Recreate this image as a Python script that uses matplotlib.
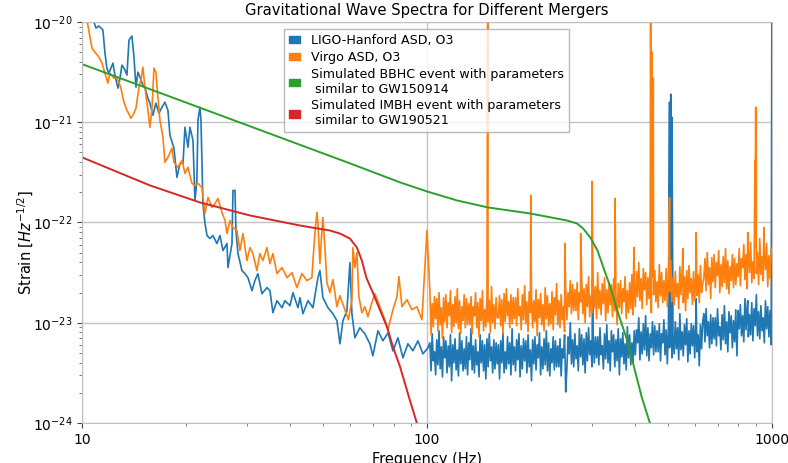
import numpy as np
import matplotlib
matplotlib.use('Agg')
import matplotlib.pyplot as plt
from matplotlib.patches import Patch
from matplotlib.ticker import FixedLocator, FixedFormatter, NullFormatter

# ---- detector ASDs, values stored as log10(strain) ----
# below 100 Hz: frequency (Hz) and log10 ASD
hanford_low_freq = [10.0, 10.48, 10.83, 10.98, 11.20, 11.50, 11.66, 11.81, 11.97, 12.30,
                    12.46, 12.72, 12.89, 13.06, 13.33, 13.50, 13.69, 13.96, 14.15, 14.34,
                    14.53, 14.73, 15.02, 15.22, 15.53, 15.74, 16.06, 16.38, 16.72, 17.06,
                    17.40, 17.75, 17.99, 18.48, 18.85, 19.24, 19.63, 19.89, 20.29, 20.56,
                    20.98, 21.26, 21.54, 21.69, 21.98, 22.13, 22.42, 22.73, 23.04, 23.50,
                    23.98, 24.62, 25.12, 25.63, 26.32, 26.50, 27.22, 27.40, 27.77, 27.95,
                    28.33, 29.09, 29.68, 30.28, 31.10, 31.72, 32.36, 33.24, 34.37, 35.07,
                    35.77, 36.75, 38.00, 38.77, 40.09, 40.89, 42.28, 42.85, 43.71, 45.20,
                    46.73, 48.31, 48.96, 49.94, 51.64, 53.39, 54.84, 55.95, 57.08, 58.63,
                    59.81, 60.61, 61.83, 63.91, 66.08, 68.33, 69.71, 72.11, 74.55, 77.10,
                    79.70, 82.40, 85.20, 88.08, 91.08, 94.17, 97.36, 100.7]
hanford_low_log = [-19.85, -20.00, -20.00, -20.06, -20.04, -20.08, -20.31, -20.46, -20.51, -20.41,
                   -20.53, -20.66, -20.56, -20.43, -20.48, -20.53, -20.18, -20.14, -20.35, -20.65,
                   -20.50, -20.55, -20.63, -20.65, -20.76, -20.81, -20.93, -20.81, -20.91, -20.85,
                   -20.80, -20.88, -21.13, -21.26, -21.55, -21.41, -21.41, -21.05, -21.25, -21.05,
                   -21.18, -21.78, -21.58, -20.98, -20.85, -20.98, -21.81, -22.01, -22.13, -22.16,
                   -22.13, -22.21, -22.13, -22.28, -22.21, -22.45, -22.21, -21.68, -21.68, -22.08,
                   -22.31, -22.48, -22.51, -22.55, -22.68, -22.58, -22.51, -22.71, -22.65, -22.68,
                   -22.90, -22.78, -22.85, -22.78, -22.83, -22.70, -22.85, -22.75, -22.91, -22.78,
                   -22.85, -22.55, -22.48, -22.75, -22.85, -22.91, -22.98, -23.21, -22.98, -22.88,
                   -22.40, -22.91, -23.15, -23.05, -23.11, -23.21, -23.33, -23.08, -23.18, -23.10,
                   -23.28, -23.15, -23.35, -23.21, -23.28, -23.18, -23.31, -23.25]

virgo_low_freq = [10.0, 10.34, 10.55, 10.69, 10.90, 11.20, 11.43, 11.66, 11.89, 12.05,
                  12.38, 12.55, 12.80, 12.97, 13.23, 13.50, 13.87, 14.15, 14.34, 14.63,
                  14.83, 15.02, 15.22, 15.53, 15.74, 15.95, 16.17, 16.38, 16.60, 16.83,
                  17.17, 17.40, 17.75, 18.23, 18.48, 18.98, 19.50, 19.89, 20.29, 20.84,
                  21.26, 21.69, 22.27, 22.73, 23.19, 23.82, 24.30, 24.79, 25.46, 25.98,
                  26.32, 26.86, 27.40, 28.14, 28.71, 29.29, 30.08, 30.69, 31.31, 32.14,
                  32.80, 33.46, 34.37, 35.07, 35.77, 36.75, 38.00, 39.30, 40.62, 41.99,
                  43.41, 44.88, 46.40, 46.73, 47.34, 47.99, 48.31, 48.96, 49.62, 49.94,
                  50.61, 51.29, 52.33, 53.39, 54.84, 55.95, 57.86, 59.22, 60.61, 61.01,
                  61.83, 62.66, 63.50, 64.77, 66.08, 67.41, 69.24, 70.64, 73.03, 75.51,
                  77.10, 79.70, 81.86, 82.94, 84.64, 87.49, 90.47, 93.54, 96.71, 100.0]
virgo_low_log = [-19.70, -19.98, -20.15, -20.26, -20.30, -20.35, -20.41, -20.51, -20.61, -20.51,
                 -20.56, -20.55, -20.60, -20.66, -20.80, -20.88, -20.96, -20.91, -20.86, -20.65,
                 -20.58, -20.45, -20.65, -20.88, -21.05, -20.88, -20.46, -20.50, -20.75, -20.98,
                 -21.15, -21.40, -21.35, -21.26, -21.40, -21.45, -21.38, -21.51, -21.45, -21.61,
                 -21.63, -21.61, -21.65, -21.91, -21.75, -21.85, -21.81, -21.76, -21.90, -21.98,
                 -22.11, -21.98, -22.05, -22.08, -22.28, -22.11, -22.38, -22.25, -22.31, -22.48,
                 -22.31, -22.38, -22.25, -22.41, -22.31, -22.51, -22.45, -22.55, -22.50, -22.65,
                 -22.51, -22.58, -22.55, -22.38, -22.11, -21.90, -22.01, -22.41, -22.08, -21.95,
                 -22.25, -22.60, -22.70, -22.57, -22.84, -22.73, -22.87, -22.97, -22.77, -22.25,
                 -22.45, -22.30, -22.74, -22.90, -22.84, -22.94, -22.80, -22.71, -22.84, -22.97,
                 -23.07, -22.87, -22.74, -22.54, -22.84, -22.77, -22.87, -22.84, -22.97, -22.08]

# 100 Hz - 1 kHz: both detectors on a common log-spaced grid
hanford_high_log = [
    # ~100-150 Hz
    -23.20, -23.48, -23.11, -23.38, -23.29, -23.52, -23.17, -23.42, -23.08, -23.46,
    -23.24, -23.54, -23.14, -23.35, -23.18, -23.50, -23.23, -23.44, -23.12, -23.58,
    -23.22, -23.40, -23.16, -23.47, -23.27, -23.53, -23.10, -23.41, -23.18, -23.48,
    -23.26, -23.46, -23.14, -23.52, -23.20, -23.37, -23.06, -23.47, -23.23, -23.50,
    -23.17, -23.42, -23.29, -23.54, -23.12, -23.40, -23.18, -23.48, -23.22, -23.56,
    -23.16, -23.44, -23.11, -23.38, -23.24, -23.50, -23.17, -23.46, -23.20, -23.41,
    # ~150-240 Hz
    -23.22, -23.56, -23.18, -23.40, -23.10, -23.50, -23.29, -23.46, -23.14, -23.41,
    -23.20, -23.52, -23.06, -23.42, -23.24, -23.48, -23.17, -23.37, -23.11, -23.54,
    -23.23, -23.46, -23.16, -23.38, -23.18, -23.50, -23.12, -23.44, -23.27, -23.58,
    -23.17, -23.41, -23.14, -23.47, -23.22, -23.35, -23.10, -23.52, -23.24, -23.46,
    -23.16, -23.42, -23.08, -23.48, -23.20, -23.53, -23.26, -23.40, -23.14, -23.47,
    -23.18, -23.44, -23.23, -23.44, -23.16, -23.53, -23.26, -23.35, -23.12, -23.69,
    # ~240-390 Hz
    -23.46, -23.14, -23.31, -23.00, -23.41, -23.17, -23.44, -23.11, -23.36, -23.23,
    -23.48, -23.06, -23.34, -23.12, -23.42, -23.16, -23.50, -23.10, -23.38, -23.05,
    -23.32, -23.18, -23.44, -23.11, -23.40, -23.14, -23.35, -23.14, -23.42, -23.05,
    -23.32, -23.23, -23.46, -23.11, -23.36, -23.02, -23.40, -23.18, -23.48, -23.08,
    -23.29, -23.12, -23.44, -23.17, -23.38, -23.06, -23.52, -23.16, -23.34, -23.10,
    -23.41, -23.21, -23.47, -23.04, -23.35, -23.12, -23.42, -23.20, -23.40, -23.08,
    # ~390-620 Hz
    -23.32, -23.07, -23.20, -22.95, -23.37, -23.09, -23.31, -23.01, -23.27, -22.93,
    -23.33, -23.05, -23.38, -23.11, -23.25, -22.99, -23.32, -23.03, -23.29, -23.08,
    -23.29, -23.01, -23.38, -23.11, -23.20, -22.97, -23.32, -23.07, -23.41, -23.03,
    -23.25, -22.95, -23.35, -23.14, -23.31, -22.99, -23.26, -23.05, -23.37, -22.91,
    -23.27, -23.09, -23.33, -23.02, -23.22, -22.96, -23.39, -23.08, -23.31, -23.01,
    -23.23, -23.03, -23.35, -22.97, -23.29, -23.12, -23.43, -23.02, -23.26, -22.99,
    # ~620-1000 Hz
    -22.91, -23.19, -22.86, -23.13, -22.99, -23.25, -22.92, -23.21, -22.95, -23.16,
    -22.95, -23.23, -22.86, -23.13, -23.04, -23.27, -22.92, -23.17, -22.83, -23.21,
    -22.99, -23.29, -22.89, -23.10, -22.93, -23.25, -22.98, -23.19, -22.87, -23.33,
    -22.88, -23.06, -22.82, -23.13, -22.93, -23.19, -22.76, -23.07, -22.84, -23.14,
    -22.92, -23.12, -22.80, -23.18, -22.86, -23.03, -22.72, -23.13, -22.89, -23.16,
    -22.83, -23.08, -22.95, -23.20, -22.78, -23.06, -22.84, -23.14, -22.88, -23.22]
virgo_high_log = [
    # ~100-150 Hz
    -22.69, -23.12, -22.81, -23.04, -22.74, -22.96, -22.76, -23.08, -22.70, -23.02,
    -22.85, -23.16, -22.75, -22.99, -22.72, -23.05, -22.80, -22.93, -22.68, -23.10,
    -22.82, -23.04, -22.74, -23.00, -22.66, -23.06, -22.78, -23.11, -22.84, -22.98,
    -22.72, -23.05, -22.76, -23.02, -22.81, -23.02, -22.74, -23.11, -22.84, -22.93,
    -22.70, -23.05, -22.80, -23.14, -22.76, -22.98, -22.68, -23.08, -22.87, -23.04,
    -22.72, -22.99, -22.78, -23.10, -22.64, -23.00, -22.82, -23.06, -22.75, -22.95,
    # ~150-240 Hz
    -22.95, -22.73, -23.03, -22.77, -23.11, -22.71, -22.99, -22.66, -22.93, -22.79,
    -23.05, -22.72, -23.01, -22.75, -22.96, -22.75, -23.03, -22.66, -22.93, -22.84,
    -23.07, -22.72, -22.97, -22.63, -23.01, -22.79, -23.09, -22.69, -22.90, -22.73,
    -23.05, -22.78, -22.99, -22.67, -23.13, -22.77, -22.95, -22.71, -23.02, -22.82,
    -23.08, -22.65, -22.96, -22.73, -23.03, -22.81, -23.01, -22.69, -23.07, -22.75,
    -22.92, -22.61, -23.02, -22.78, -23.05, -22.72, -22.97, -22.84, -23.09, -22.67,
    # ~240-390 Hz
    -22.97, -22.70, -22.84, -22.58, -22.91, -22.62, -22.88, -22.67, -22.88, -22.60,
    -22.97, -22.70, -22.79, -22.56, -22.91, -22.66, -23.00, -22.62, -22.84, -22.54,
    -22.94, -22.73, -22.90, -22.58, -22.85, -22.64, -22.96, -22.50, -22.86, -22.68,
    -22.92, -22.61, -22.81, -22.55, -22.98, -22.67, -22.90, -22.60, -22.82, -22.62,
    -22.94, -22.56, -22.88, -22.71, -23.02, -22.61, -22.85, -22.58, -22.91, -22.66,
    -22.79, -22.54, -22.96, -22.68, -22.90, -22.60, -22.86, -22.52, -22.92, -22.64,
    # ~390-620 Hz
    -22.84, -22.49, -22.74, -22.40, -22.78, -22.56, -22.86, -22.46, -22.67, -22.50,
    -22.82, -22.55, -22.76, -22.44, -22.90, -22.54, -22.72, -22.48, -22.79, -22.59,
    -22.85, -22.42, -22.73, -22.50, -22.80, -22.58, -22.78, -22.46, -22.84, -22.52,
    -22.69, -22.38, -22.79, -22.55, -22.82, -22.49, -22.74, -22.61, -22.86, -22.44,
    -22.72, -22.50, -22.80, -22.54, -22.88, -22.48, -22.76, -22.43, -22.70, -22.56,
    -22.82, -22.49, -22.78, -22.52, -22.73, -22.52, -22.80, -22.43, -22.70, -22.61,
    # ~620-1000 Hz
    -22.56, -22.36, -22.68, -22.30, -22.62, -22.45, -22.76, -22.35, -22.59, -22.32,
    -22.65, -22.40, -22.53, -22.28, -22.70, -22.42, -22.64, -22.34, -22.60, -22.26,
    -22.66, -22.38, -22.71, -22.44, -22.58, -22.32, -22.65, -22.36, -22.62, -22.41,
    -22.54, -22.26, -22.63, -22.36, -22.45, -22.22, -22.57, -22.32, -22.66, -22.28,
    -22.50, -22.20, -22.60, -22.39, -22.56, -22.24, -22.51, -22.30, -22.62, -22.16,
    -22.52, -22.34, -22.58, -22.27, -22.47, -22.21, -22.64, -22.33, -22.56, -22.26]

# narrow instrumental lines (mains harmonics, violin modes, calibration)
hanford_line_freq = [302, 505, 509, 513, 603, 851, 1000]
hanford_line_log = [-22.57, -20.80, -20.72, -20.95, -22.76, -22.78, -19.5]
virgo_line_freq = [150, 200, 251, 279, 301, 351, 398, 445, 449, 453,
                   505, 552, 603, 851, 893, 897, 901, 948]
virgo_line_log = [-19.5, -21.73, -22.21, -22.11, -21.59, -21.76, -22.25, -19.5, -20.30, -20.56,
                  -21.75, -22.26, -22.10, -22.10, -21.38, -20.85, -20.88, -22.05]

# ---- simulated signals ----
bbh_freq = [10, 10, 15.74, 30.69, 59.81, 83.6, 100, 122.2, 150.3, 199.0,
            254.6, 272.3, 283.5, 297.6, 312.2, 324.8, 340.6, 355.6, 380.1, 420.0, 442.9, 460]
bbh_log = [-30, -20.42, -20.67, -21.04, -21.41, -21.60, -21.69, -21.78, -21.85, -21.91,
           -21.98, -22.01, -22.06, -22.15, -22.28, -22.45, -22.65, -22.87, -23.17, -23.75, -24.0, -24.2]
imbh_freq = [10, 10, 15.74, 21.98, 30.69, 42.85, 52.33, 55.95, 59.81, 62.66,
             64.77, 66.74, 69.71, 73.03, 76.58, 79.70, 83.59, 89.18, 93.5, 96]
imbh_log = [-30, -21.35, -21.63, -21.80, -21.93, -22.03, -22.08, -22.11, -22.16, -22.25,
            -22.38, -22.55, -22.70, -22.87, -23.04, -23.24, -23.44, -23.77, -24.0, -24.3]

labels = ['LIGO-Hanford ASD, O3',
          'Virgo ASD, O3',
          'Simulated BBHC event with parameters\n similar to GW150914',
          'Simulated IMBH event with parameters\n similar to GW190521']
colors = ['C0', 'C1', 'C2', 'C3']


def build_asd(low_f, low_l, high_l, line_f, line_l):
    high_f = np.geomspace(102, 995, len(high_l))
    f = np.concatenate([low_f, high_f, line_f])
    l = np.concatenate([low_l, high_l, line_l])
    order = np.argsort(f, kind='stable')
    return f[order], 10.0 ** l[order]


h_f, h_asd = build_asd(hanford_low_freq, hanford_low_log, hanford_high_log,
                       hanford_line_freq, hanford_line_log)
v_f, v_asd = build_asd(virgo_low_freq, virgo_low_log, virgo_high_log,
                       virgo_line_freq, virgo_line_log)

fig = plt.figure(figsize=(7.88, 4.63), dpi=100)
ax = fig.add_axes([0.104, 0.0864, 0.8756, 0.8661])

ax.plot(h_f, h_asd, color=colors[0], lw=1.2)
ax.plot(v_f, v_asd, color=colors[1], lw=1.2)
ax.plot(bbh_freq, 10.0 ** np.array(bbh_log), color=colors[2], lw=1.4)
ax.plot(imbh_freq, 10.0 ** np.array(imbh_log), color=colors[3], lw=1.4)

ax.set_xscale('log')
ax.set_yscale('log')
ax.set_xlim(10, 1000)
ax.set_ylim(1e-24, 1e-20)

ax.xaxis.set_major_locator(FixedLocator([10, 100, 1000]))
ax.xaxis.set_major_formatter(FixedFormatter(['10', '100', '1000']))
ax.xaxis.set_minor_formatter(NullFormatter())
ax.yaxis.set_minor_formatter(NullFormatter())

ax.grid(True, which='major', color='#c4c4c4', lw=1.0)
for s in ax.spines.values():
    s.set_color('#c0c0c0')
ax.tick_params(which='major', length=3.5, color='#444444', labelsize=10)
ax.tick_params(which='minor', length=2, color='#666666')

ax.set_title('Gravitational Wave Spectra for Different Mergers', fontsize=10.6, pad=5)
ax.set_xlabel('Frequency (Hz)', fontsize=10.5)
ax.set_ylabel('Strain [$Hz^{-1/2}$]', fontsize=10.5)
ax.yaxis.set_label_coords(-0.066, 0.451)

handles = [Patch(color=c, label=t) for c, t in zip(colors, labels)]
ax.legend(handles=handles, loc='upper left', bbox_to_anchor=(0.3604, 0.9374),
          bbox_transform=fig.transFigure, borderaxespad=0, fontsize=9.1,
          handlelength=0.9, handleheight=0.5, handletextpad=0.8, labelspacing=0.3,
          borderpad=0.4, fancybox=False, edgecolor='#aaaaaa', framealpha=0.8)

fig.savefig('out.png', dpi=100)
